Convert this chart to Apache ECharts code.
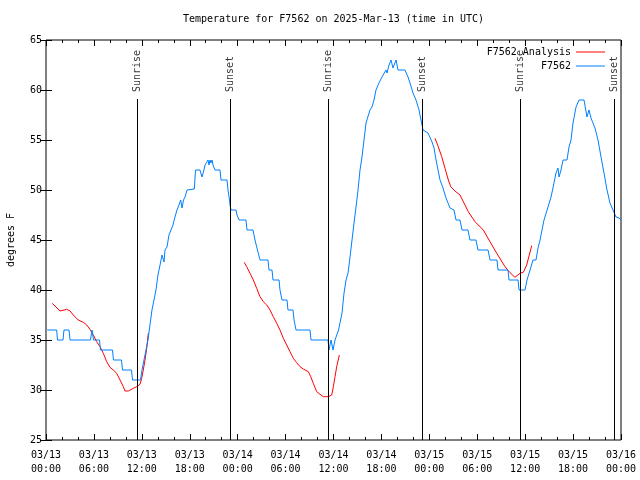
<!DOCTYPE html>
<html>
<head>
<meta charset="utf-8">
<script src="https://cdn.jsdelivr.net/npm/echarts@6/dist/echarts.min.js"></script>
<style>html,body{margin:0;padding:0;background:#fff}#c{width:640px;height:480px}</style>
</head>
<body>
<div id="c"></div>
<script>
// Hours since 2025-03-13 00:00 UTC
const obsHours = [0.16,1.34,1.44,2.13,2.25,2.88,3.01,5.57,5.76,5.95,6.70,6.82,8.33,8.45,9.45,9.58,10.71,10.83,11.83,12.02,12.27,12.52,12.77,13.02,13.27,13.52,13.77,14.02,14.28,14.53,14.78,14.90,15.15,15.40,15.65,15.90,16.15,16.40,16.65,16.87,17.03,17.22,17.41,17.66,17.91,18.57,18.72,19.28,19.53,19.78,19.91,20.29,20.41,20.54,20.66,20.79,20.91,21.16,21.79,21.91,22.67,22.79,22.98,23.04,23.17,23.79,23.92,24.17,25.04,25.17,25.92,26.17,26.48,26.80,27.80,27.92,28.30,28.43,29.18,29.30,29.55,30.18,30.30,30.93,31.06,31.31,33.06,33.18,35.31,35.44,35.69,35.94,36.19,36.44,36.63,36.81,37.07,37.19,37.32,37.57,37.82,38.07,38.32,38.57,38.82,39.07,39.32,39.57,39.82,40.07,40.57,40.82,41.07,41.32,41.69,42.07,42.57,42.70,42.95,43.20,43.45,43.83,44.08,44.95,45.33,45.58,45.96,46.33,46.71,46.96,47.21,47.83,48.34,48.59,48.84,49.34,49.71,50.09,50.59,51.09,51.34,51.84,52.09,52.84,53.09,53.84,54.09,55.35,55.60,56.47,56.60,57.85,57.98,59.11,59.23,59.98,60.23,60.61,60.98,61.36,61.61,61.86,62.11,62.36,62.86,63.24,63.61,63.86,64.11,64.24,64.49,64.74,65.24,65.49,65.74,65.99,66.37,66.74,67.37,67.74,67.99,68.24,68.49,68.74,69.12,69.50,69.87,70.25,70.62,71.00,71.37,71.75,72.00];
const obsTemps = [36,36,35,35,36,36,35,35,36,35,35,34,34,33,33,32,32,31,31,32,33,34,35,36.5,38,39,40,41.5,42.5,43.5,42.8,44,44.3,45.5,46,46.5,47.3,48,48.5,49,48.2,49,49.3,50,50.1,50.1,52,52,51.3,52,52.5,53,52.5,53,52.7,53,52.5,52,52,51,51,50,49,48.5,48,48,47.5,47,47,46,46,45,44,43,43,42,42,41,41,40,39,39,38,38,37,36,36,35,35,34,35,34,35,35,36,36.7,37.7,38.7,39.7,41,41.7,43.3,45,46.7,48.3,50,52,53.3,55,56.7,58,58.3,59,60,60.7,61.3,62,61.7,62.5,63,62.2,63,62,62,61.3,60.7,59.7,59,58,57,56,55.7,54.8,54.2,53,51,50.2,49.2,48.2,48,47,47,46,46,45,45,44,44,43,43,42,42,41,41,40,40,41,42,43,43,44.2,45,46,47,48.3,49.3,50.7,51.7,52.2,51.3,52,53,53,54.3,55,56.7,58.3,59,59,57.3,58,57.2,57,56.2,55,53.3,51.7,50,48.7,48,47.3,47.2,47];

// Analysis: three segments (null = gap)
const anaHours = [0.79,1.75,2.59,3.01,3.42,4.04,4.67,5.10,5.51,5.92,6.35,6.76,7.18,7.60,8.01,8.43,8.85,9.27,9.68,9.89,10.31,10.93,11.36,11.77,11.98,12.18,12.40,12.61,12.81,
  null,
  24.83,25.13,25.55,25.96,26.38,26.80,27.21,27.64,28.05,28.46,28.89,29.30,29.72,30.14,30.55,30.97,31.39,31.81,32.22,32.85,33.15,33.47,33.90,34.31,34.72,35.35,35.78,35.98,36.19,36.40,36.73,
  null,
  48.71,49.12,49.55,49.96,50.38,50.68,51.21,51.84,52.88,53.72,54.76,55.60,56.44,57.48,58.10,58.73,59.35,59.77,60.19,60.82];
const anaTemps = [38.67,37.9,38.07,37.9,37.5,37.0,36.77,36.5,36.07,35.5,34.83,34.33,33.67,32.83,32.27,32.0,31.67,31.0,30.33,29.9,29.9,30.17,30.33,30.57,31.17,32.0,33.0,34.17,35.67,
  null,
  42.77,42.33,41.67,41.0,40.17,39.33,38.83,38.5,38.0,37.33,36.67,36.0,35.17,34.5,33.83,33.17,32.73,32.33,32.1,31.83,31.33,30.67,29.83,29.57,29.33,29.33,29.5,30.33,31.33,32.33,33.5,
  null,
  55.17,54.33,53.33,52.17,51.0,50.33,49.9,49.5,47.83,46.83,46.0,44.83,43.67,42.33,41.73,41.27,41.67,41.77,42.5,44.43];

const sunHours = [11.43, 23.13, 35.35, 47.12, 59.42, 71.21];
const sunNames = ['Sunrise','Sunset','Sunrise','Sunset','Sunrise','Sunset'];
const sunLineTop = 59.1;
const sunLabelBase = 59.8;

const xTickStart = 0, xTickEnd = 72, xTickStep = 6;
const yMin = 25, yMax = 65, yStep = 5;

const FONT = 'DejaVu Sans Mono';
const obsData = obsHours.map((h,i)=>[h, obsTemps[i]]);
const anaData = anaHours.map((h,i)=> h === null ? ['-','-'] : [h, anaTemps[i]]);

function fmtX(v){
  const day = 13 + Math.floor(v/24 + 1e-9);
  const hr = Math.round(v - (day-13)*24);
  const pad = n => (n<10?'0':'')+n;
  return '03/' + pad(day) + '\n' + pad(hr) + ':00';
}

const chart = echarts.init(document.getElementById('c'), null, {renderer:'canvas'});
const axisCommon = {
  axisLine:{show:false},
  splitLine:{show:false},
  axisTick:{show:true, inside:true, length:6, lineStyle:{color:'#000', width:1}},
};
chart.setOption({
  animation:false,
  backgroundColor:'#fff',
  title:{
    text:'Temperature for F7562 on 2025-Mar-13 (time in UTC)',
    left:333.5, textAlign:'center', top:14, padding:0,
    textStyle:{fontFamily:FONT, fontSize:10, fontWeight:'normal', color:'#000'}
  },
  grid:{left:46, right:19, top:40, bottom:40, containLabel:false, outerBoundsMode:'none',
    show:true, borderColor:'#000', borderWidth:1, backgroundColor:'transparent'},
  legend:{
    orient:'vertical', right:30, top:42, align:'right', itemWidth:29, itemHeight:10, itemGap:4,
    icon:'path://M0,4.5 L29,4.5 L29,5.5 L0,5.5 Z',
    textStyle:{fontFamily:FONT, fontSize:10, color:'#000'},
    data:['F7562 Analysis','F7562']
  },
  xAxis:[
    Object.assign({}, axisCommon, {
      type:'value', min:xTickStart, max:xTickEnd, interval:xTickStep, position:'bottom',
      minorTick:{show:true, splitNumber:3, length:3, lineStyle:{color:'#000'}},
      axisLabel:{fontFamily:FONT, fontSize:10, color:'#000', margin:8, lineHeight:14, formatter:fmtX}
    }),
    Object.assign({}, axisCommon, {
      type:'value', min:xTickStart, max:xTickEnd, interval:xTickStep, position:'top',
      minorTick:{show:true, splitNumber:3, length:3, lineStyle:{color:'#000'}},
      axisLabel:{show:false}
    })
  ],
  yAxis:[
    Object.assign({}, axisCommon, {
      type:'value', min:yMin, max:yMax, interval:yStep, position:'left',
      name:'degrees F', nameLocation:'middle', nameGap:30, nameRotate:90,
      nameTextStyle:{fontFamily:FONT, fontSize:10, color:'#000'},
      axisLabel:{fontFamily:FONT, fontSize:10, color:'#000', margin:4}
    }),
    Object.assign({}, axisCommon, {
      type:'value', min:yMin, max:yMax, interval:yStep, position:'right',
      axisLabel:{show:false}
    })
  ],
  series:[
    {
      name:'F7562 Analysis', type:'line', data:anaData, symbol:'none', showSymbol:false, connectNulls:false,
      lineStyle:{color:'#ff0000', width:1}, itemStyle:{color:'#ff0000'}, z:3
    },
    {
      name:'F7562', type:'line', data:obsData, symbol:'none', showSymbol:false,
      lineStyle:{color:'#0080ff', width:1}, itemStyle:{color:'#0080ff'}, z:4
    },
    {
      name:'sun', type:'scatter', symbolSize:0, z:2,
      data: sunHours.map((h,i)=>({value:[h, sunLabelBase], name:sunNames[i]})),
      label:{show:true, position:'inside', rotate:90, align:'left', verticalAlign:'middle',
        formatter:p=>p.name, fontFamily:FONT, fontSize:10, color:'#000'},
      markLine:{
        silent:true, symbol:'none', label:{show:false},
        lineStyle:{color:'#000', width:1, type:'solid'},
        data: sunHours.map(h=>[{coord:[h, sunLineTop]},{coord:[h, yMin]}])
      }
    }
  ]
});
</script>
</body>
</html>
